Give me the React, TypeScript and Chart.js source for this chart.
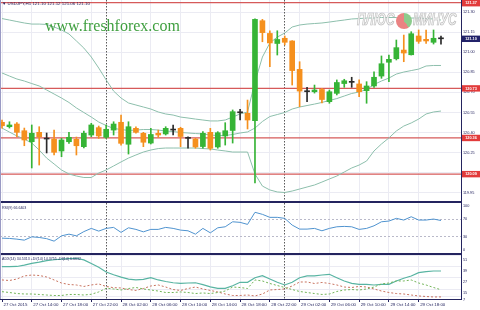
import React, { useEffect, useRef } from 'react';
import { Chart, registerables } from 'chart.js';

Chart.register(...registerables);

// ---------------- data ----------------
const TIME_LABELS = [
  '27 Oct 2015', '27 Oct 14:00', '27 Oct 18:00', '27 Oct 22:00', '28 Oct 02:00',
  '28 Oct 06:00', '28 Oct 10:00', '28 Oct 14:00', '28 Oct 18:00', '28 Oct 22:00',
  '29 Oct 02:00', '29 Oct 06:00', '29 Oct 10:00', '29 Oct 14:00', '29 Oct 18:00',
];
const TIME_LABEL_BARS = [0, 4, 8, 12, 16, 20, 24, 28, 32, 36, 40, 44, 48, 52, 56];
const DAY_BREAK_BARS = [14, 38];

const OPEN = [
  120.477, 120.444, 120.464, 120.414, 120.332, 120.402, 120.352, 120.352, 120.263, 120.332,
  120.350, 120.295, 120.382, 120.437, 120.365, 120.419, 120.477, 120.313, 120.432, 120.395,
  120.322, 120.395, 120.390, 120.419, 120.432, 120.357, 120.352, 120.296, 120.402, 120.293,
  120.375, 120.416, 120.548, 120.544, 120.489, 121.235, 121.140, 121.065, 121.104, 121.084,
  120.872, 120.705, 120.705, 120.722, 120.631, 120.693, 120.766, 120.775, 120.763, 120.713,
  120.748, 120.822, 120.925, 120.951, 121.016, 120.981, 121.121, 121.096, 121.074, 121.100,
];
const HIGH = [
  120.494, 120.481, 120.474, 120.434, 120.457, 120.444, 120.397, 120.419, 120.357, 120.402,
  120.367, 120.412, 120.469, 120.449, 120.457, 120.481, 120.531, 120.481, 120.444, 120.402,
  120.432, 120.419, 120.444, 120.457, 120.440, 120.369, 120.357, 120.407, 120.432, 120.407,
  120.474, 120.569, 120.574, 120.643, 121.250, 121.245, 121.160, 121.160, 121.121, 121.086,
  120.929, 120.738, 120.755, 120.731, 120.718, 120.793, 120.798, 120.813, 120.793, 120.780,
  120.854, 120.972, 120.979, 121.091, 121.128, 121.153, 121.166, 121.166, 121.166, 121.120,
];
const LOW = [
  120.434, 120.434, 120.369, 120.302, 120.136, 120.158, 120.248, 120.233, 120.220, 120.320,
  120.233, 120.285, 120.369, 120.357, 120.357, 120.382, 120.307, 120.240, 120.395, 120.295,
  120.315, 120.365, 120.382, 120.382, 120.295, 120.283, 120.283, 120.283, 120.270, 120.283,
  120.307, 120.322, 120.494, 120.427, 120.024, 121.078, 120.892, 120.979, 121.054, 120.755,
  120.593, 120.631, 120.695, 120.621, 120.619, 120.681, 120.738, 120.738, 120.668, 120.619,
  120.738, 120.805, 120.780, 120.942, 120.929, 120.979, 121.066, 121.066, 121.061, 121.060,
];
const CLOSE = [
  120.451, 120.457, 120.402, 120.345, 120.395, 120.369, 120.352, 120.253, 120.345, 120.365,
  120.302, 120.395, 120.457, 120.375, 120.425, 120.464, 120.320, 120.444, 120.402, 120.328,
  120.386, 120.382, 120.432, 120.419, 120.371, 120.357, 120.293, 120.395, 120.283, 120.399,
  120.414, 120.556, 120.548, 120.494, 121.245, 121.146, 121.069, 121.095, 121.074, 120.863,
  120.710, 120.705, 120.718, 120.647, 120.705, 120.774, 120.787, 120.775, 120.705, 120.748,
  120.813, 120.914, 120.947, 121.034, 120.994, 121.138, 121.081, 121.084, 121.104, 121.100,
];

const BB_UPPER = [
  121.251, 121.240, 121.229, 121.218, 121.210, 121.210, 121.207, 121.188, 121.166, 121.136,
  121.084, 121.031, 120.964, 120.882, 120.793, 120.710, 120.658, 120.621, 120.606, 120.591,
  120.576, 120.554, 120.539, 120.531, 120.516, 120.509, 120.501, 120.494, 120.487, 120.487,
  120.494, 120.516, 120.539, 120.554, 120.778, 120.964, 121.069, 121.113, 121.143, 121.188,
  121.203, 121.210, 121.214, 121.218, 121.225, 121.233, 121.240, 121.248, 121.251, 121.255,
  121.255, 121.259, 121.259, 121.259, 121.259, 121.255, 121.255, 121.251, 121.248, 121.240,
];
const BB_MIDDLE = [
  120.845, 120.822, 120.800, 120.785, 120.766, 120.748, 120.718, 120.688, 120.658, 120.625,
  120.584, 120.550, 120.516, 120.479, 120.453, 120.431, 120.423, 120.416, 120.419, 120.423,
  120.423, 120.419, 120.412, 120.408, 120.401, 120.397, 120.393, 120.390, 120.382, 120.378,
  120.378, 120.386, 120.397, 120.405, 120.434, 120.483, 120.520, 120.535, 120.550, 120.576,
  120.591, 120.602, 120.613, 120.625, 120.640, 120.654, 120.673, 120.692, 120.703, 120.722,
  120.759, 120.785, 120.807, 120.837, 120.852, 120.863, 120.874, 120.897, 120.901, 120.901,
];
const BB_LOWER = [
  120.434, 120.404, 120.375, 120.352, 120.322, 120.270, 120.210, 120.166, 120.121, 120.091,
  120.076, 120.065, 120.065, 120.098, 120.121, 120.151, 120.181, 120.210, 120.233, 120.255,
  120.270, 120.281, 120.285, 120.285, 120.285, 120.285, 120.285, 120.281, 120.278, 120.270,
  120.263, 120.255, 120.255, 120.255, 120.091, 120.001, 119.972, 119.957, 119.953, 119.964,
  119.979, 119.994, 120.009, 120.031, 120.054, 120.076, 120.106, 120.136, 120.158, 120.188,
  120.263, 120.315, 120.360, 120.412, 120.449, 120.472, 120.501, 120.539, 120.554, 120.561,
];

const PRICE_TICKS = [121.3, 121.15, 121.0, 120.85, 120.7, 120.55, 120.4, 120.25, 120.1, 119.95];
const PRICE_LEVELS = [121.37, 120.73, 120.36, 120.09];
const LAST_PRICE = 121.1;

const RSI = [
  26.1, 25.4, 23.8, 21.5, 29.1, 27.7, 24.9, 19.2, 31.4, 35.3,
  31.4, 41.1, 48.5, 42.3, 48.5, 50.8, 39.3, 49.9, 46.2, 40.6,
  46.2, 46.2, 50.8, 48.5, 44.6, 43.0, 35.3, 48.5, 38.3, 49.9,
  52.2, 63.7, 62.4, 57.7, 85.5, 80.8, 73.9, 73.9, 71.6, 56.1,
  46.9, 46.9, 48.5, 43.0, 48.5, 52.2, 53.1, 52.2, 46.2, 48.5,
  54.5, 63.7, 65.4, 71.6, 67.7, 75.3, 67.7, 67.7, 70.0, 66.64,
];
const RSI_TICKS = [100, 70, 30, 0];
const RSI_LEVELS = [70, 30];

const ADX = [
  39.2, 39.2, 39.4, 40.8, 42.8, 44.0, 45.6, 46.6, 47.2, 47.8,
  48.2, 46.5, 42.5, 38.5, 33.5, 30.5, 28.0, 25.8, 25.0, 25.5,
  27.3, 24.9, 23.2, 21.9, 21.3, 21.6, 21.9, 19.8, 17.5, 15.9,
  15.9, 18.7, 22.4, 22.4, 27.3, 29.5, 25.9, 22.4, 19.5, 22.4,
  27.3, 29.2, 29.2, 30.2, 31.0, 27.3, 23.8, 21.3, 20.2, 20.2,
  19.5, 20.2, 20.2, 23.8, 26.7, 29.2, 32.7, 33.8, 34.5, 34.53,
];
const PLUS_DI = [
  12.3, 11.4, 10.3, 9.8, 9.8, 9.3, 8.7, 8.2, 8.2, 9.3,
  9.3, 8.7, 9.5, 12.0, 15.9, 15.2, 14.1, 15.7, 16.8, 15.2,
  14.1, 13.0, 11.4, 11.4, 12.0, 11.4, 10.3, 10.9, 10.3, 11.4,
  13.0, 17.3, 16.8, 15.7, 24.9, 23.8, 21.1, 18.9, 16.8, 14.6,
  12.5, 11.4, 10.3, 9.3, 9.8, 12.5, 14.1, 14.6, 14.1, 15.2,
  17.3, 20.6, 21.6, 23.8, 23.8, 24.9, 21.6, 19.5, 16.8, 14.38,
];
const MINUS_DI = [
  24.9, 24.3, 25.9, 29.2, 30.2, 29.7, 28.1, 24.9, 21.6, 20.0,
  19.5, 17.9, 19.5, 20.6, 17.9, 16.6, 16.3, 14.6, 13.6, 15.7,
  18.4, 19.5, 17.3, 14.6, 13.6, 15.7, 17.3, 15.2, 13.6, 12.0,
  9.8, 8.2, 8.2, 8.7, 7.7, 9.8, 14.1, 14.6, 15.2, 18.4,
  22.7, 22.7, 21.1, 22.2, 21.1, 19.5, 17.3, 16.8, 17.9, 17.3,
  15.2, 13.0, 11.4, 10.3, 9.8, 8.7, 7.7, 7.1, 6.6, 6.66,
];
const ADX_TICKS = [51, 39, 27, 15, 7];

// ---------------- styling ----------------
const FONT = "'Liberation Sans', Arial, sans-serif";
const NAVY = '#24245f';
const GRID = '#ebebf3';
const UP = '#36b436';
const DOWN = '#f5901e';
const DOJI = '#2b2b2b';
const BAND = '#8dbfac';
const LEVEL_LINE = '#d65a5a';
const TAG_RED = '#e23b3b';
const TAG_NAVY = '#22226a';
const X_MIN = -0.269;
const X_MAX = 61.69;

const xScale = (showLabels: boolean): any => ({
  type: 'linear',
  min: X_MIN,
  max: X_MAX,
  offset: false,
  afterBuildTicks: (s: any) => {
    s.ticks = TIME_LABEL_BARS.map((v) => ({ value: v }));
  },
  afterFit: (s: any) => {
    s.height = showLabels ? 11 : 0;
    s.paddingLeft = 0;
    s.paddingRight = 0;
  },
  grid: { color: GRID, lineWidth: 1, offset: false, drawTicks: showLabels, tickLength: 3, tickColor: NAVY },
  border: { display: showLabels, color: NAVY, width: 1 },
  ticks: {
    display: showLabels,
    autoSkip: false,
    maxRotation: 0,
    minRotation: 0,
    align: 'start',
    padding: 0,
    labelOffset: 1.5,
    color: NAVY,
    font: { family: FONT, size: 4.4 },
    callback: (_v: any, i: number) => TIME_LABELS[i],
  },
});

const yScale = (min: number, max: number, ticks: number[], fmt: (v: number) => string, extra: any = {}): any => ({
  position: 'right',
  min,
  max,
  afterBuildTicks: (s: any) => {
    s.ticks = ticks.map((v) => ({ value: v }));
  },
  afterFit: (s: any) => {
    s.width = 19;
    s.paddingTop = 0;
    s.paddingBottom = 0;
  },
  grid: { color: GRID, lineWidth: 1, drawTicks: false, display: extra.grid !== false },
  border: { display: true, color: NAVY, width: 1 },
  ticks: {
    padding: 2,
    labelOffset: extra.labelOffset || 0,
    color: NAVY,
    font: { family: FONT, size: 3.8 },
    callback: (v: any) => fmt(Number(v)),
  },
});

const dayBreaks = {
  id: 'dayBreaks',
  beforeDatasetsDraw(chart: any) {
    const { ctx, chartArea: a } = chart;
    const x = chart.scales.x;
    ctx.save();
    ctx.strokeStyle = '#5a5a5a';
    ctx.lineWidth = 1;
    ctx.setLineDash([1.5, 1.5]);
    for (const b of DAY_BREAK_BARS) {
      const px = Math.floor(x.getPixelForValue(b)) + 0.5;
      ctx.beginPath();
      ctx.moveTo(px, a.top);
      ctx.lineTo(px, a.bottom);
      ctx.stroke();
    }
    ctx.restore();
  },
};

const priceMarks = {
  id: 'priceMarks',
  beforeDatasetsDraw(chart: any) {
    const { ctx, chartArea: a } = chart;
    const y = chart.scales.y;
    ctx.save();
    ctx.strokeStyle = LEVEL_LINE;
    ctx.lineWidth = 1.3;
    for (const v of PRICE_LEVELS) {
      const py = y.getPixelForValue(v);
      ctx.beginPath();
      ctx.moveTo(a.left, py);
      ctx.lineTo(a.right, py);
      ctx.stroke();
    }
    ctx.restore();
  },
  afterDraw(chart: any) {
    const { ctx, chartArea: a } = chart;
    const y = chart.scales.y;
    ctx.save();
    ctx.font = `bold 3.8px ${FONT}`;
    ctx.textAlign = 'center';
    ctx.textBaseline = 'middle';
    const tag = (v: number, bg: string) => {
      const py = y.getPixelForValue(v);
      const top = Math.max(0, py - 3.2);
      ctx.fillStyle = bg;
      ctx.fillRect(a.right + 1, top, chart.width - a.right - 1, 6.4);
      ctx.fillStyle = '#ffffff';
      ctx.fillText(v.toFixed(2), (a.right + 1 + chart.width) / 2, top + 3.3);
    };
    PRICE_LEVELS.forEach((v) => tag(v, TAG_RED));
    tag(LAST_PRICE, TAG_NAVY);
    ctx.restore();
  },
};

const rsiLevels = {
  id: 'rsiLevels',
  beforeDatasetsDraw(chart: any) {
    const { ctx, chartArea: a } = chart;
    const y = chart.scales.y;
    ctx.save();
    ctx.strokeStyle = '#b9b9c9';
    ctx.lineWidth = 1;
    ctx.setLineDash([2, 2]);
    for (const v of RSI_LEVELS) {
      const py = Math.round(y.getPixelForValue(v)) + 0.5;
      ctx.beginPath();
      ctx.moveTo(a.left, py);
      ctx.lineTo(a.right, py);
      ctx.stroke();
    }
    ctx.restore();
  },
};

const baseOptions = (scales: any): any => ({
  responsive: false,
  animation: false,
  events: [],
  layout: { padding: 0 },
  plugins: { legend: { display: false }, tooltip: { enabled: false } },
  scales,
});

const series = (arr: number[]) => arr.map((v, i) => ({ x: i, y: v }));

const tinyText = (text: string, left: number, top: number, size: number) => (
  <div
    style={{
      position: 'absolute',
      left,
      top,
      fontFamily: FONT,
      fontSize: size * 2,
      lineHeight: 1,
      color: NAVY,
      whiteSpace: 'nowrap',
      transform: 'scale(0.5)',
      transformOrigin: '0 0',
    }}
  >
    {text}
  </div>
);

export default function App() {
  const mainRef = useRef<HTMLCanvasElement>(null);
  const rsiRef = useRef<HTMLCanvasElement>(null);
  const adxRef = useRef<HTMLCanvasElement>(null);

  useEffect(() => {
    const idx = OPEN.map((_, i) => i);
    const candleColor = OPEN.map((o, i) => (CLOSE[i] > o ? UP : CLOSE[i] < o ? DOWN : DOJI));
    const charts: Chart[] = [];

    const bandLine = (arr: number[]) => ({
      type: 'line',
      data: series(arr),
      borderColor: BAND,
      borderWidth: 1,
      pointRadius: 0,
      tension: 0,
      order: 3,
    });

    charts.push(
      new Chart(mainRef.current as HTMLCanvasElement, {
        type: 'bar',
        data: {
          datasets: [
            bandLine(BB_UPPER),
            bandLine(BB_MIDDLE),
            bandLine(BB_LOWER),
            {
              type: 'bar',
              data: idx.map((i) => ({ x: i, y: [LOW[i], HIGH[i]] })),
              backgroundColor: candleColor,
              barThickness: 1,
              grouped: false,
              order: 2,
            },
            {
              type: 'bar',
              data: idx.map((i) => ({ x: i, y: [OPEN[i], CLOSE[i]] })),
              backgroundColor: candleColor,
              barThickness: 5,
              minBarLength: 1,
              grouped: false,
              order: 1,
            },
          ] as any,
        },
        options: baseOptions({
          x: xScale(false),
          y: yScale(119.8896, 121.3896, PRICE_TICKS, (v) => v.toFixed(2)),
        }),
        plugins: [dayBreaks, priceMarks],
      })
    );

    charts.push(
      new Chart(rsiRef.current as HTMLCanvasElement, {
        type: 'line',
        data: {
          datasets: [
            { data: series(RSI), borderColor: '#4f93cf', borderWidth: 1, pointRadius: 0, tension: 0 },
          ] as any,
        },
        options: baseOptions({
          x: xScale(false),
          y: yScale(-8.05, 106.9, RSI_TICKS, (v) => String(v), { grid: false }),
        }),
        plugins: [dayBreaks, rsiLevels],
      })
    );

    charts.push(
      new Chart(adxRef.current as HTMLCanvasElement, {
        type: 'line',
        data: {
          datasets: [
            { data: series(PLUS_DI), borderColor: '#72b458', borderWidth: 1, borderDash: [2, 2], pointRadius: 0, tension: 0 },
            { data: series(MINUS_DI), borderColor: '#c8735f', borderWidth: 1, borderDash: [2, 2], pointRadius: 0, tension: 0 },
            { data: series(ADX), borderColor: '#58b4a2', borderWidth: 1.2, pointRadius: 0, tension: 0 },
          ] as any,
        },
        options: baseOptions({
          x: xScale(true),
          y: yScale(4.42, 51.73, ADX_TICKS, (v) => String(v), { labelOffset: 3.8 }),
        }),
        plugins: [dayBreaks],
      })
    );

    return () => charts.forEach((c) => c.destroy());
  }, []);

  return (
    <div
      style={{
        position: 'fixed',
        left: 0,
        top: 0,
        width: 480,
        height: 310,
        background: '#ffffff',
        overflow: 'hidden',
      }}
    >
      <canvas ref={mainRef} width={480} height={201} style={{ position: 'absolute', left: 0, top: 0 }} />
      <canvas ref={rsiRef} width={480} height={50} style={{ position: 'absolute', left: 0, top: 203 }} />
      <canvas ref={adxRef} width={480} height={55} style={{ position: 'absolute', left: 0, top: 255 }} />

      {/* panel separators */}
      <div style={{ position: 'absolute', left: 0, top: 201, width: 462, height: 2, background: NAVY }} />
      <div style={{ position: 'absolute', left: 0, top: 253, width: 462, height: 2, background: NAVY }} />
      <div style={{ position: 'absolute', left: 0, top: 0, width: 1, height: 299, background: '#9a9ac4' }} />

      {/* watermarks */}
      <div
        style={{
          position: 'absolute',
          left: 45,
          top: 18,
          fontFamily: "'Liberation Serif', 'Times New Roman', serif",
          fontSize: 16,
          lineHeight: '16px',
          color: '#3f9f3f',
          whiteSpace: 'nowrap',
        }}
      >
        www.freshforex.com
      </div>
      <div
        style={{
          position: 'absolute',
          left: 357,
          top: 11,
          fontFamily: FONT,
          fontWeight: 'bold',
          fontStyle: 'italic',
          fontSize: 16,
          lineHeight: '18px',
          color: '#f4f4f4',
          WebkitTextStroke: '0.7px #b8b8b8',
          whiteSpace: 'nowrap',
          transform: 'scaleX(0.74)',
          transformOrigin: '0 0',
        }}
      >
        ПЛЮС
      </div>
      <div
        style={{
          position: 'absolute',
          left: 395.5,
          top: 12.5,
          width: 16,
          height: 16,
          borderRadius: '50%',
          background: 'conic-gradient(#8ccb8c 0 40%, #ea8282 40% 100%)',
        }}
      />
      <div
        style={{
          position: 'absolute',
          left: 413,
          top: 11,
          fontFamily: FONT,
          fontWeight: 'bold',
          fontStyle: 'italic',
          fontSize: 16,
          lineHeight: '18px',
          color: '#f4f4f4',
          WebkitTextStroke: '0.7px #b8b8b8',
          whiteSpace: 'nowrap',
          transform: 'scaleX(0.74)',
          transformOrigin: '0 0',
        }}
      >
        МИНУС
      </div>

      {/* panel titles */}
      {tinyText('▼ USDJPY,H1  121.10 121.12 121.06 121.10', 2, 0.8, 4.4)}
      {tinyText('RSI(9) 66.6403', 2, 205.7, 3.6)}
      {tinyText('ADX(14) 34.5313 +DI(14) 14.3755 -DI(14) 6.6632', 2, 256.7, 3.6)}
    </div>
  );
}
